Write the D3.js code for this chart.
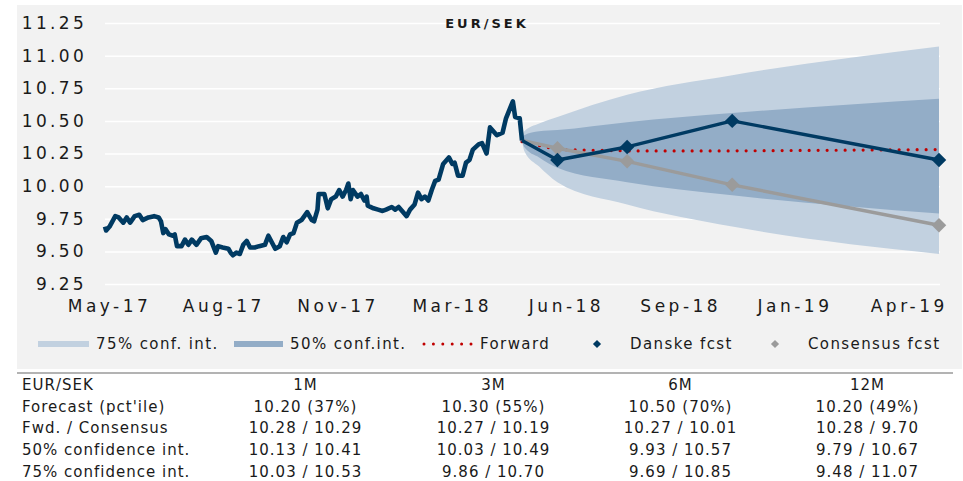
<!DOCTYPE html>
<html>
<head>
<meta charset="utf-8">
<script src="https://cdn.jsdelivr.net/npm/d3@7"></script>
<style>
body{margin:0;background:#fff;}
svg text{font-family:"DejaVu Sans",sans-serif;fill:#1a1a1a;}
</style>
</head>
<body>
<div id="chart-area"></div>
<script>
// EUR/SEK history
var histDates = ["2017-05-12","2017-05-13","2017-05-16","2017-05-21","2017-05-24","2017-05-28","2017-05-31","2017-06-03","2017-06-07","2017-06-11",
  "2017-06-14","2017-06-19","2017-06-24","2017-06-28","2017-06-30","2017-07-02","2017-07-04","2017-07-07","2017-07-10","2017-07-12",
  "2017-07-14","2017-07-18","2017-07-21","2017-07-24","2017-07-27","2017-07-31","2017-08-04","2017-08-09","2017-08-13","2017-08-17",
  "2017-08-19","2017-08-23","2017-08-28","2017-08-30","2017-09-01","2017-09-04","2017-09-07","2017-09-10","2017-09-13","2017-09-16",
  "2017-09-20","2017-09-24","2017-09-29","2017-10-02","2017-10-05","2017-10-08","2017-10-12","2017-10-15","2017-10-18","2017-10-21",
  "2017-10-24","2017-10-27","2017-10-31","2017-11-05","2017-11-09","2017-11-11","2017-11-14","2017-11-15","2017-11-20","2017-11-23",
  "2017-11-26","2017-11-30","2017-12-03","2017-12-06","2017-12-09","2017-12-11","2017-12-13","2017-12-15","2017-12-19","2017-12-22",
  "2017-12-25","2017-12-27","2017-12-28","2018-01-02","2018-01-06","2018-01-10","2018-01-13","2018-01-18","2018-01-21","2018-01-24",
  "2018-01-28","2018-01-31","2018-02-03","2018-02-07","2018-02-10","2018-02-13","2018-02-16","2018-02-19","2018-02-22","2018-02-25",
  "2018-02-28","2018-03-04","2018-03-09","2018-03-12","2018-03-14","2018-03-17","2018-03-21","2018-03-24","2018-03-27","2018-03-30",
  "2018-04-04","2018-04-07","2018-04-11","2018-04-14","2018-04-20","2018-04-25","2018-04-28","2018-05-04","2018-05-06","2018-05-10",
  "2018-05-12"];
var histRates = [9.69,9.66,9.69,9.77,9.76,9.72,9.76,9.72,9.77,9.78,
  9.74,9.76,9.77,9.76,9.73,9.64,9.67,9.63,9.62,9.63,
  9.54,9.54,9.59,9.55,9.59,9.55,9.60,9.61,9.58,9.49,
  9.54,9.53,9.52,9.49,9.47,9.49,9.48,9.55,9.58,9.53,
  9.53,9.54,9.55,9.62,9.57,9.52,9.54,9.61,9.57,9.63,
  9.64,9.72,9.74,9.80,9.74,9.73,9.82,9.94,9.94,9.83,
  9.90,9.92,9.97,9.92,9.97,10.02,9.90,9.97,9.92,9.94,
  9.89,9.92,9.85,9.83,9.82,9.81,9.82,9.84,9.82,9.84,
  9.80,9.77,9.82,9.86,9.95,9.90,9.92,9.89,9.97,10.04,
  10.05,10.17,10.22,10.17,10.18,10.08,10.08,10.18,10.20,10.28,
  10.32,10.33,10.25,10.45,10.39,10.41,10.52,10.65,10.53,10.52,
  10.35];

// forecasts: spot, 1M, 3M, 6M, 12M
var fcstDates = ["2018-05-12","2018-06-12","2018-08-12","2018-11-12","2019-05-12"];
var danske = [10.35, 10.20, 10.30, 10.50, 10.20];
var consensus = [10.35, 10.29, 10.19, 10.01, 9.70];
var forward = [10.34, 10.28, 10.27, 10.27, 10.28];

// confidence cone
var bandDates = ["2018-05-12","2018-05-14","2018-05-27","2018-06-12","2018-08-12","2018-11-12","2019-05-12"];
var hi75 = [10.35, 10.42, 10.48, 10.53, 10.70, 10.85, 11.07];
var lo75 = [10.35, 10.27, 10.15, 10.03, 9.86, 9.69, 9.48];
var hi50 = [10.35, 10.39, 10.42, 10.43, 10.49, 10.56, 10.67];
var lo50 = [10.35, 10.30, 10.22, 10.14, 10.03, 9.93, 9.79];

var yTicks = [9.25, 9.50, 9.75, 10.00, 10.25, 10.50, 10.75, 11.00, 11.25];
var xTickDates = ["2017-05-14","2017-08-22","2017-11-30","2018-03-10","2018-06-18","2018-09-26","2019-01-04","2019-04-14"];
var xTickLabels = ["May-17","Aug-17","Nov-17","Mar-18","Jun-18","Sep-18","Jan-19","Apr-19"];

var tableHead = ["EUR/SEK","1M","3M","6M","12M"];
var tableRows = [
  ["Forecast (pct'ile)","10.20 (37%)","10.30 (55%)","10.50 (70%)","10.20 (49%)"],
  ["Fwd. / Consensus","10.28 / 10.29","10.27 / 10.19","10.27 / 10.01","10.28 / 9.70"],
  ["50% confidence int.","10.13 / 10.41","10.03 / 10.49","9.93 / 10.57","9.79 / 10.67"],
  ["75% confidence int.","10.03 / 10.53","9.86 / 10.70","9.69 / 10.85","9.48 / 11.07"]
];

var parse = d3.timeParse("%Y-%m-%d");
var W = 963, H = 481;

var svg = d3.select("#chart-area").append("svg")
    .attr("width", W)
    .attr("height", H);

// grey panel
svg.append("rect")
    .attr("x", 17).attr("y", 5)
    .attr("width", 945).attr("height", 364)
    .attr("fill", "#f2f2f2");

var x = d3.scaleTime()
    .domain([parse("2017-05-12"), parse("2019-05-12")])
    .range([105, 939]);
var y = d3.scaleLinear()
    .domain([9.25, 11.25])
    .range([284, 23]);

// gridlines + y labels
var yAxis = d3.axisLeft(y)
    .tickValues(yTicks)
    .tickSize(-835)
    .tickPadding(18)
    .tickFormat(d3.format(".2f"));
var gy = svg.append("g")
    .attr("transform", "translate(105,0)")
    .call(yAxis);
gy.select(".domain").remove();
gy.selectAll("line").attr("stroke", "#ffffff").attr("stroke-width", 1.5);
gy.selectAll("text")
    .style("font-size", "17px")
    .style("letter-spacing", "3.3px")
    .attr("fill", "#222");

var xAxis = d3.axisBottom(x)
    .tickValues(xTickDates.map(parse))
    .tickSize(0)
    .tickPadding(16)
    .tickFormat(function(d, i){ return xTickLabels[i]; });
var gx = svg.append("g")
    .attr("transform", "translate(0,284)")
    .call(xAxis);
gx.select(".domain").remove();
gx.selectAll("text")
    .style("font-size", "17px")
    .style("letter-spacing", "3.5px")
    .attr("dx", "1.75")
    .attr("fill", "#222");

// cone
function band(lo, hi){
  return d3.area()
    .x(function(d, i){ return x(parse(bandDates[i])); })
    .y0(function(d, i){ return y(lo[i]); })
    .y1(function(d, i){ return y(hi[i]); })
    .curve(d3.curveMonotoneX)(bandDates);
}
svg.append("path").attr("d", band(lo75, hi75)).attr("fill", "#c2d1e0");
svg.append("path").attr("d", band(lo50, hi50)).attr("fill", "#93adc7");

function fcstLine(vals){
  return d3.line()
    .x(function(d, i){ return x(parse(fcstDates[i])); })
    .y(function(d){ return y(d); })(vals);
}

svg.append("path")
    .attr("d", fcstLine(forward))
    .attr("fill", "none")
    .attr("stroke", "#c00000")
    .attr("stroke-width", 3.2)
    .attr("stroke-linecap", "round")
    .attr("stroke-dasharray", "0 9");

var diamond = d3.symbol().type(d3.symbolSquare).size(105);

function drawFcst(vals, color){
  svg.append("path")
    .attr("d", fcstLine(vals))
    .attr("fill", "none")
    .attr("stroke", color)
    .attr("stroke-width", 3.4)
    .attr("stroke-linejoin", "round");
  svg.append("g").selectAll("path")
    .data(vals.slice(1))
    .enter().append("path")
    .attr("d", diamond)
    .attr("fill", color)
    .attr("transform", function(d, i){
      return "translate(" + x(parse(fcstDates[i + 1])) + "," + y(d) + ") rotate(45)";
    });
}
drawFcst(consensus, "#9b9b9b");
drawFcst(danske, "#003a62");

// history
svg.append("path")
    .datum(histRates)
    .attr("d", d3.line()
      .x(function(d, i){ return x(parse(histDates[i])); })
      .y(function(d){ return y(d); }))
    .attr("fill", "none")
    .attr("stroke", "#003a62")
    .attr("stroke-width", 4.6)
    .attr("stroke-linejoin", "round");

// title
svg.append("text")
    .attr("x", 487).attr("y", 28)
    .attr("text-anchor", "middle")
    .style("font-size", "13px")
    .style("font-weight", "bold")
    .style("letter-spacing", "3px")
    .text("EUR/SEK");

// legend
var lg = svg.append("g").style("font-size", "15px").style("letter-spacing", "1.4px");
lg.append("rect").attr("x", 38).attr("y", 341).attr("width", 51).attr("height", 6).attr("fill", "#c2d1e0");
lg.append("text").attr("x", 96).attr("y", 349).text("75% conf. int.");
lg.append("rect").attr("x", 234).attr("y", 341).attr("width", 49).attr("height", 6).attr("fill", "#93adc7");
lg.append("text").attr("x", 290).attr("y", 349).text("50% conf.int.");
lg.append("line").attr("x1", 424).attr("x2", 472).attr("y1", 344).attr("y2", 344)
    .attr("stroke", "#c00000").attr("stroke-width", 3).attr("stroke-linecap", "round")
    .attr("stroke-dasharray", "0 9.4");
lg.append("text").attr("x", 480).attr("y", 349).text("Forward");
var smallDiamond = d3.symbol().type(d3.symbolSquare).size(34);
lg.append("path").attr("d", smallDiamond).attr("fill", "#003a62").attr("transform", "translate(597,344) rotate(45)");
lg.append("text").attr("x", 630).attr("y", 349).text("Danske fcst");
lg.append("path").attr("d", smallDiamond).attr("fill", "#9b9b9b").attr("transform", "translate(775,344) rotate(45)");
lg.append("text").attr("x", 808).attr("y", 349).text("Consensus fcst");

// table
var colX = [22, 305, 493, 680, 867];
svg.append("line").attr("x1", 17).attr("x2", 953).attr("y1", 373).attr("y2", 373)
    .attr("stroke", "#9a9a9a").attr("stroke-width", 1.5);
var tg = svg.append("g").style("font-size", "15px").style("letter-spacing", "1px");
[tableHead].concat(tableRows).forEach(function(row, r){
  row.forEach(function(cell, c){
    tg.append("text")
      .attr("x", c === 0 ? colX[c] : colX[c] + 0.5)
      .attr("y", 390 + r * 21.7)
      .attr("text-anchor", c === 0 ? "start" : "middle")
      .text(cell);
  });
});
</script>
</body>
</html>
